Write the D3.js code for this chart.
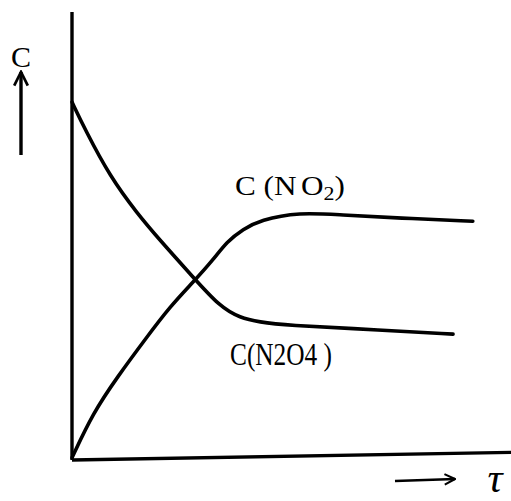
<!DOCTYPE html>
<html>
<head>
<meta charset="utf-8">
<script src="https://cdn.jsdelivr.net/npm/d3@7"></script>
<style>
  html, body { margin: 0; padding: 0; background: #fff; }
  svg { display: block; }
  text { font-family: "Liberation Serif", "DejaVu Serif", serif; fill: #000; }
</style>
</head>
<body>
<div id="chart"></div>
<script>
// Concentration of N2O4 and NO2 against time (arbitrary units)
const timeN2O4 = [0, 0.30, 0.87, 1.48, 2.00, 2.76, 3.37, 3.83, 4.28, 4.81, 7.08, 8.68];
const concN2O4 = [7.99, 7.37, 6.32, 5.51, 4.91, 4.08, 3.42, 3.17, 3.08, 3.01, 2.90, 2.81];
const timeNO2 = [0, 0.48, 1.03, 1.71, 2.23, 2.76, 3.21, 3.53, 3.90, 4.28, 5.19, 6.10, 7.47, 9.13];
const concNO2 = [0.05, 1.05, 1.85, 2.75, 3.42, 3.97, 4.46, 4.88, 5.15, 5.36, 5.53, 5.47, 5.40, 5.33];
const axisLabelY = "C";
const axisLabelX = "τ";

const W = 511, H = 501;
const margin = { left: 72, right: 0, top: 12, bottom: 41 };

const svg = d3.select("#chart").append("svg")
  .attr("width", W).attr("height", H);

const x = d3.scaleLinear().domain([0, 10]).range([margin.left, W - margin.right]);
const y = d3.scaleLinear().domain([0, 10]).range([H - margin.bottom, margin.top]);

const defs = svg.append("defs");
defs.append("marker")
  .attr("id", "head")
  .attr("viewBox", "0 0 10 10")
  .attr("refX", 9).attr("refY", 5)
  .attr("markerWidth", 5).attr("markerHeight", 5)
  .attr("markerUnits", "strokeWidth")
  .attr("orient", "auto")
  .append("path")
  .attr("d", "M1,1 L9,5 L1,9")
  .attr("fill", "none").attr("stroke", "#000").attr("stroke-width", 1.6)
  .attr("stroke-linejoin", "miter");

// axes
svg.append("line")
  .attr("x1", x(0)).attr("y1", y(0))
  .attr("x2", x(0)).attr("y2", y(10))
  .attr("stroke", "#000").attr("stroke-width", 3.4);
svg.append("line")
  .attr("x1", x(0)).attr("y1", y(0))
  .attr("x2", x(10)).attr("y2", y(0.17))
  .attr("stroke", "#000").attr("stroke-width", 3.4);

// curves
const line = d3.line()
  .x(d => x(d[0])).y(d => y(d[1]))
  .curve(d3.curveBasis);

svg.append("path")
  .datum(d3.zip(timeN2O4, concN2O4))
  .attr("d", line)
  .attr("fill", "none").attr("stroke", "#000").attr("stroke-width", 3.6)
  .attr("stroke-linecap", "round").attr("stroke-linejoin", "round");

svg.append("path")
  .datum(d3.zip(timeNO2, concNO2))
  .attr("d", line)
  .attr("fill", "none").attr("stroke", "#000").attr("stroke-width", 3.6)
  .attr("stroke-linecap", "round").attr("stroke-linejoin", "round");

// series labels
const lblNO2 = svg.append("text")
  .attr("x", 235).attr("y", 195)
  .attr("font-size", 27);
lblNO2.append("tspan").text("C (N");
lblNO2.append("tspan").attr("dx", 4).text("O");
lblNO2.append("tspan").attr("dy", 5).attr("font-size", 19).text("2");
lblNO2.append("tspan").attr("dy", -5).attr("font-size", 27).text(")");
lblNO2.attr("textLength", 110).attr("lengthAdjust", "spacingAndGlyphs");

svg.append("text")
  .attr("x", 230).attr("y", 365)
  .attr("font-size", 31)
  .attr("textLength", 102).attr("lengthAdjust", "spacingAndGlyphs")
  .text("C(N2O4 )");

// y axis label with arrow
svg.append("text")
  .attr("x", 21).attr("y", 67)
  .attr("text-anchor", "middle")
  .attr("font-size", 30)
  .text(axisLabelY);
svg.append("line")
  .attr("x1", 21).attr("y1", 155)
  .attr("x2", 21).attr("y2", 72)
  .attr("stroke", "#000").attr("stroke-width", 3.4)
  .attr("marker-end", "url(#head)");

// x axis label with arrow
svg.append("line")
  .attr("x1", 395).attr("y1", 481)
  .attr("x2", 455).attr("y2", 479)
  .attr("stroke", "#000").attr("stroke-width", 2.6)
  .attr("marker-end", "url(#head)");
svg.append("text")
  .attr("x", 495).attr("y", 492)
  .attr("text-anchor", "middle")
  .attr("font-size", 42)
  .attr("font-style", "italic")
  .text(axisLabelX);
</script>
</body>
</html>
